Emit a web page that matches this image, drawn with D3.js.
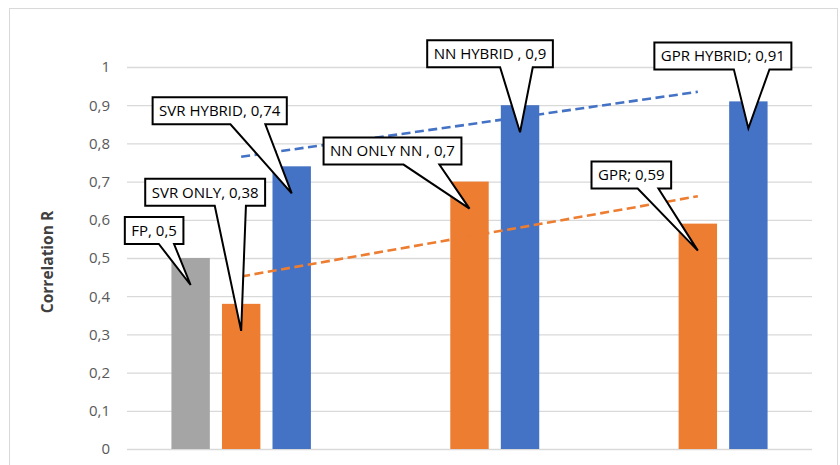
<!DOCTYPE html>
<html>
<head>
<meta charset="utf-8">
<script src="https://cdn.jsdelivr.net/npm/d3@7"></script>
<style>
  body { margin: 0; background: #fff; }
  svg { display: block; }
</style>
</head>
<body>
<svg id="chart" width="840" height="465"></svg>
<script>
// ---- data ----
const categories = ["SVR", "NN", "GPR"];
const seriesNames = ["FP", "ONLY", "HYBRID"];
const fpValues = [0.5, null, null];
const onlyValues = [0.38, 0.7, 0.59];
const hybridValues = [0.74, 0.9, 0.91];
const fpLabels = ["FP, 0,5", null, null];
const onlyLabels = ["SVR ONLY, 0,38", "NN ONLY NN , 0,7", "GPR; 0,59"];
const hybridLabels = ["SVR HYBRID, 0,74", "NN HYBRID , 0,9", "GPR HYBRID; 0,91"];
const yTicks = [0, 0.1, 0.2, 0.3, 0.4, 0.5, 0.6, 0.7, 0.8, 0.9, 1];
const yTickLabels = ["0", "0,1", "0,2", "0,3", "0,4", "0,5", "0,6", "0,7", "0,8", "0,9", "1"];
const yTitle = "Correlation R";

// ---- layout & style ----
const colors = { FP: "#A5A5A5", ONLY: "#ED7D31", HYBRID: "#4472C4" };
// callout box placement relative to its pointer tip: [box centre dx, box bottom dy]
const calloutOffsets = {
  FP: [[-36.5, -41], null, null],
  ONLY: [[-36, -125], [-77, -44], [-66.5, -62]],
  HYBRID: [[-72, -69], [-30, -65], [-25.5, -59]]
};
const plot = { left: 127, right: 812, top: 67, bottom: 449 };
const font = "'Open Sans', 'Noto Sans', sans-serif";

const series = [
  { name: "FP", values: fpValues, labels: fpLabels },
  { name: "ONLY", values: onlyValues, labels: onlyLabels },
  { name: "HYBRID", values: hybridValues, labels: hybridLabels }
];

const svg = d3.select("#chart");

// chart frame
svg.append("rect")
  .attr("x", 9.5).attr("y", 8.5)
  .attr("width", 828).attr("height", 480)
  .attr("fill", "#fff").attr("stroke", "#d9d9d9").attr("stroke-width", 1);

const y = d3.scaleLinear().domain([0, 1]).range([plot.bottom, plot.top]);
const x0 = d3.scaleBand().domain(categories)
  .range([plot.left, plot.right]).paddingInner(0.336).paddingOuter(0.168);
const x1 = d3.scaleBand().domain(seriesNames)
  .range([0, x0.bandwidth()]).paddingInner(0.24).paddingOuter(0.12);

// gridlines + tick labels via the axis generator
const yAxis = d3.axisLeft(y)
  .tickValues(yTicks)
  .tickSize(-(plot.right - plot.left))
  .tickPadding(17)
  .tickFormat((d, i) => yTickLabels[i]);

const gAxis = svg.append("g")
  .attr("transform", `translate(${plot.left},0)`)
  .call(yAxis);
gAxis.select(".domain").remove();
gAxis.selectAll(".tick line").attr("stroke", "#d9d9d9").attr("stroke-width", 1.3);
gAxis.selectAll(".tick text")
  .attr("fill", "#595959")
  .style("font-family", font)
  .style("font-size", "15px");

// axis title
svg.append("text")
  .attr("transform", `translate(48,${(plot.top + plot.bottom) / 2 + 4}) rotate(-90)`)
  .attr("text-anchor", "middle")
  .attr("dy", "0.35em")
  .attr("fill", "#404040")
  .style("font-family", font)
  .style("font-size", "15.5px")
  .style("font-weight", "bold")
  .text(yTitle);

// bars
const gBars = svg.append("g");
series.forEach(s => {
  gBars.selectAll(null)
    .data(categories.map((c, i) => ({ c, v: s.values[i] })).filter(d => d.v != null))
    .enter().append("rect")
    .attr("x", d => x0(d.c) + x1(s.name))
    .attr("y", d => y(d.v))
    .attr("width", x1.bandwidth())
    .attr("height", d => y(0) - y(d.v))
    .attr("fill", colors[s.name]);
});

// linear trendlines across the category positions 1..n
function linearFit(vals) {
  const pts = vals.map((v, i) => [i + 1, v]).filter(p => p[1] != null);
  const mx = d3.mean(pts, p => p[0]);
  const my = d3.mean(pts, p => p[1]);
  const slope = d3.sum(pts, p => (p[0] - mx) * (p[1] - my)) / d3.sum(pts, p => (p[0] - mx) ** 2);
  return xi => my + slope * (xi - mx);
}
const centre = c => x0(c) + x0.bandwidth() / 2;
const line = d3.line().x(d => d[0]).y(d => d[1]);
[["ONLY", onlyValues], ["HYBRID", hybridValues]].forEach(([name, vals]) => {
  const f = linearFit(vals);
  const first = categories[0], last = categories[categories.length - 1];
  svg.append("path")
    .attr("d", line([[centre(first), y(f(1))], [centre(last), y(f(categories.length))]]))
    .attr("fill", "none")
    .attr("stroke", colors[name])
    .attr("stroke-width", 2.6)
    .attr("stroke-dasharray", "9,4.5");
});

// callout labels
const gCallouts = svg.append("g");
series.forEach(s => {
  categories.forEach((c, i) => {
    const v = s.values[i];
    const label = s.labels[i];
    if (v == null || !label) return;
    const tipX = x0(c) + x1(s.name) + x1.bandwidth() / 2;
    const tipY = y(v) + 27;
    const [dx, dy] = calloutOffsets[s.name][i];
    const g = gCallouts.append("g");
    const path = g.append("path");
    const txt = g.append("text")
      .attr("text-anchor", "middle")
      .attr("fill", "#000")
      .style("font-family", font)
      .style("font-size", "15px")
      .text(label);
    const w = txt.node().getComputedTextLength() + 13;
    const h = 27;
    const cx = tipX + dx;
    const bottom = tipY + dy;
    const left = cx - w / 2, right = cx + w / 2, top = bottom - h;
    const bL = left + w * 0.58, bR = left + w * 0.84;
    path.attr("d", `M${left},${top}H${right}V${bottom}H${bR}L${tipX},${tipY}L${bL},${bottom}H${left}Z`)
      .attr("fill", "#fff")
      .attr("stroke", "#000")
      .attr("stroke-width", 2)
      .attr("stroke-linejoin", "miter");
    txt.attr("x", cx).attr("y", top + h / 2).attr("dy", "0.35em");
  });
});
</script>
</body>
</html>
